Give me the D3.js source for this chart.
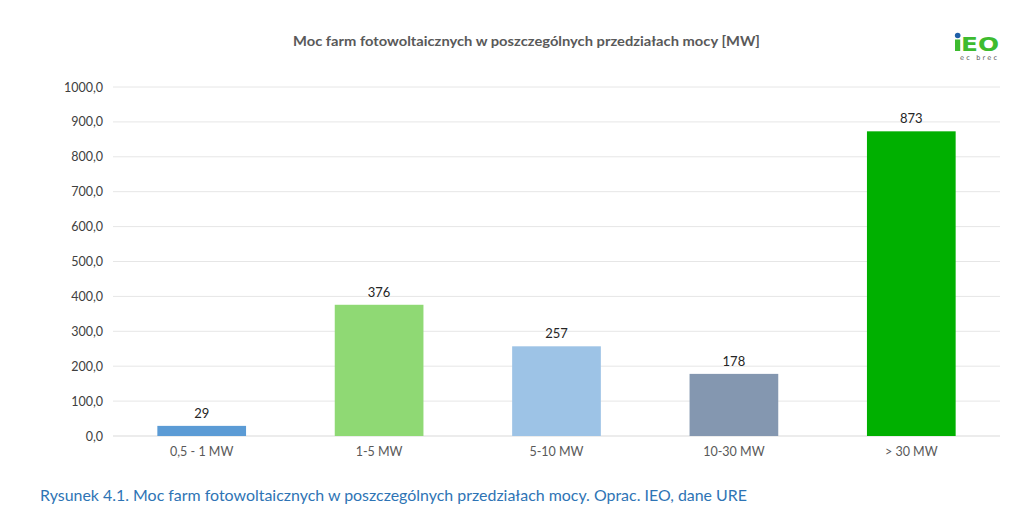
<!DOCTYPE html>
<html><head><meta charset="utf-8">
<script src="https://cdn.jsdelivr.net/npm/d3@7"></script>
<style>body{margin:0;background:#fff}svg{display:block}</style>
</head><body><svg id="c" width="1024" height="522"></svg>
<script>
const categories = ["0,5 - 1 MW", "1-5 MW", "5-10 MW", "10-30 MW", "> 30 MW"];
const values = [29, 376, 257, 178, 873];
const barColors = ["#5b9bd5", "#8fd974", "#9dc3e6", "#8497b0", "#00b000"];
const yTicks = [0, 100, 200, 300, 400, 500, 600, 700, 800, 900, 1000];
const title = "Moc farm fotowoltaicznych w poszczególnych przedziałach mocy [MW]";
const caption = "Rysunek 4.1. Moc farm fotowoltaicznych w poszczególnych przedziałach mocy. Oprac. IEO, dane URE";

const svg = d3.select("#c");
const font = "Lato, 'Open Sans', sans-serif";
const x = d3.scaleBand().domain(categories).range([113, 1000]).paddingInner(0.5).paddingOuter(0.25);
const y = d3.scaleLinear().domain([0, 1000]).range([436, 87]);

// gridlines
svg.append("g").selectAll("line").data(yTicks).join("line")
  .attr("x1", 113).attr("x2", 1000)
  .attr("y1", d => y(d)).attr("y2", d => y(d))
  .attr("stroke", d => d === 0 ? "#d9d9d9" : "#e6e6e6").attr("stroke-width", 1);

// y axis labels
const yAxis = d3.axisLeft(y).tickValues(yTicks).tickSize(0).tickPadding(10)
  .tickFormat(d => d3.format(".1f")(d).replace(".", ","));
const ya = svg.append("g").attr("transform", "translate(113,0)").call(yAxis);
ya.select(".domain").remove();
ya.selectAll("text").attr("font-family", font).attr("font-size", 12.5).attr("fill", "#404040");

// x axis labels
const xAxis = d3.axisBottom(x).tickSize(0).tickPadding(11);
const xa = svg.append("g").attr("transform", "translate(0,436)").call(xAxis);
xa.select(".domain").remove();
xa.selectAll("text").attr("font-family", font).attr("font-size", 12.5).attr("fill", "#595959");

// bars
svg.append("g").selectAll("rect").data(values).join("rect")
  .attr("x", (d, i) => x(categories[i]))
  .attr("width", x.bandwidth())
  .attr("y", d => y(d))
  .attr("height", d => y(0) - y(d))
  .attr("fill", (d, i) => barColors[i]);

// value labels
svg.append("g").selectAll("text").data(values).join("text")
  .attr("x", (d, i) => x(categories[i]) + x.bandwidth() / 2)
  .attr("y", d => y(d) - 8)
  .attr("text-anchor", "middle")
  .attr("font-family", font).attr("font-size", 13).attr("fill", "#262626")
  .text(d => d);

// title
svg.append("text").attr("x", 293).attr("y", 46)
  .attr("font-family", font).attr("font-size", 14).attr("font-weight", "bold").attr("fill", "#595959")
  .attr("textLength", 467).attr("lengthAdjust", "spacingAndGlyphs")
  .text(title);

// caption
svg.append("text").attr("x", 40).attr("y", 501)
  .attr("font-family", font).attr("font-size", 15).attr("fill", "#2e74b5")
  .attr("textLength", 707).attr("lengthAdjust", "spacingAndGlyphs")
  .text(caption);

// logo
const logo = svg.append("g");
logo.append("circle").attr("cx", 957.7).attr("cy", 35.5).attr("r", 2.8).attr("fill", "#1f5fa8");
logo.append("rect").attr("x", 955).attr("y", 39.5).attr("width", 5.2).attr("height", 11.5).attr("fill", "#3dbb2f");
logo.append("text").attr("x", 961).attr("y", 51)
  .attr("font-family", "'DejaVu Sans', sans-serif").attr("font-size", 19).attr("font-weight", "bold").attr("fill", "#3dbb2f")
  .attr("textLength", 38).attr("lengthAdjust", "spacingAndGlyphs")
  .text("EO");
logo.append("text").attr("x", 960).attr("y", 60)
  .attr("font-family", "'DejaVu Sans', sans-serif").attr("font-size", 6.5).attr("fill", "#555")
  .attr("textLength", 37).attr("lengthAdjust", "spacing")
  .text("ec brec");
</script></body></html>
